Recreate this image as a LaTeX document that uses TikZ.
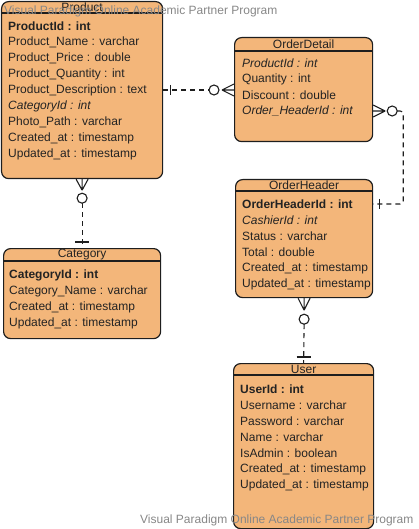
\documentclass[tikz,border=0pt]{standalone}
\usepackage{fontspec}
\setmainfont{Liberation Sans}
\usetikzlibrary{calc}
\definecolor{erfill}{RGB}{243,182,122}
\definecolor{erline}{RGB}{30,30,30}
\definecolor{ertext}{RGB}{35,35,35}
\definecolor{wmark}{RGB}{135,135,135}
\tikzset{
  entity/.style={draw=erline, fill=erfill, line width=1.2pt, rounded corners=7pt, anchor=north west, inner sep=0pt},
  ttl/.style={text=ertext, font=\fontsize{12}{14}\selectfont, inner sep=0pt},
  field/.style={text=ertext, font=\fontsize{12}{14}\selectfont, anchor=west, inner sep=0pt},
  pkey/.style={field, font=\fontsize{12}{14}\selectfont\bfseries},
  fkey/.style={field, font=\fontsize{12}{14}\selectfont\itshape},
  sepline/.style={draw=erline, line width=1.2pt},
  rel/.style={draw=erline, line width=1.1pt, dash pattern=on 5pt off 4pt},
  foot/.style={draw=erline, line width=1.1pt},
  wmtext/.style={text=wmark, font=\fontsize{12}{14}\selectfont, anchor=west, inner sep=0pt}
}
\begin{document}
\begin{tikzpicture}[x=1pt,y=-1pt]
    \useasboundingbox (0,0) rectangle (418,529);
    % Product
    \node[entity, minimum width=161pt, minimum height=177pt] (product) at (1,1) {};
    \draw[sepline] ($(product.north west)+(0,12)$) -- ($(product.north east)+(0,12)$);
    \node[ttl] (ptitle) at ($(product.north)+(0,6)$) {Product};
    \node[pkey] (pid) at (8,26) {ProductId : int};
    \node[field] (pname) at (8,42) {Product\_Name : varchar};
    \node[field] (pprice) at (8,58) {Product\_Price : double};
    \node[field] (pqty) at (8,74) {Product\_Quantity : int};
    \node[field] (pdesc) at (8,90) {Product\_Description : text};
    \node[fkey] (pcat) at (8,106) {CategoryId : int};
    \node[field] (pphoto) at (8,122) {Photo\_Path : varchar};
    \node[field] (pcreated) at (8,138) {Created\_at : timestamp};
    \node[field] (pupdated) at (8,154) {Updated\_at : timestamp};
    % OrderDetail
    \node[entity, minimum width=138pt, minimum height=104pt] (odetail) at (234,37) {};
    \draw[sepline] ($(odetail.north west)+(0,14)$) -- ($(odetail.north east)+(0,14)$);
    \node[ttl] (dtitle) at ($(odetail.north)+(0,7)$) {OrderDetail};
    \node[fkey] (dprod) at (242,63) {ProductId : int};
    \node[field] (dqty) at (242,79) {Quantity : int};
    \node[field] (ddisc) at (242,95) {Discount : double};
    \node[fkey] (dhead) at (242,111) {Order\_HeaderId : int};
    % OrderHeader
    \node[entity, minimum width=137pt, minimum height=118pt] (oheader) at (235,179) {};
    \draw[sepline] ($(oheader.north west)+(0,12)$) -- ($(oheader.north east)+(0,12)$);
    \node[ttl] (htitle) at ($(oheader.north)+(0,6)$) {OrderHeader};
    \node[pkey] (hid) at (242,204) {OrderHeaderId : int};
    \node[fkey] (hcash) at (242,220) {CashierId : int};
    \node[field] (hstatus) at (242,236) {Status : varchar};
    \node[field] (htotal) at (242,252) {Total : double};
    \node[field] (hcreated) at (242,268) {Created\_at : timestamp};
    \node[field] (hupdated) at (242,284) {Updated\_at : timestamp};
    % Category
    \node[entity, minimum width=157pt, minimum height=90pt] (category) at (3,248) {};
    \draw[sepline] ($(category.north west)+(0,13)$) -- ($(category.north east)+(0,13)$);
    \node[ttl] (ctitle) at ($(category.north)+(0,7)$) {Category};
    \node[pkey] (cid) at (9,275) {CategoryId : int};
    \node[field] (cname) at (9,291) {Category\_Name : varchar};
    \node[field] (ccreated) at (9,307) {Created\_at : timestamp};
    \node[field] (cupdated) at (9,323) {Updated\_at : timestamp};
    % User
    \node[entity, minimum width=140pt, minimum height=165pt] (user) at (233,363) {};
    \draw[sepline] ($(user.north west)+(0,12)$) -- ($(user.north east)+(0,12)$);
    \node[ttl] (utitle) at ($(user.north)+(0,6)$) {User};
    \node[pkey] (uid) at (240,389) {UserId : int};
    \node[field] (uname) at (240,405) {Username : varchar};
    \node[field] (upass) at (240,421) {Password : varchar};
    \node[field] (ureal) at (240,437) {Name : varchar};
    \node[field] (uadmin) at (240,453) {IsAdmin : boolean};
    \node[field] (ucreated) at (240,469) {Created\_at : timestamp};
    \node[field] (uupdated) at (240,485) {Updated\_at : timestamp};
    % Product -- OrderDetail
    \draw[rel] (product.east |- pdesc) -- ($(odetail.west |- pdesc)+(-25,0)$);
    \draw[foot] ($(product.east |- pdesc)+(7,-5)$) -- ++(0,10);
    \draw[foot, fill=white] ($(odetail.west |- pdesc)+(-20,0)$) circle (5pt);
    \coordinate (dfoot) at ($(odetail.west |- pdesc)+(-12,0)$);
    \draw[foot] (dfoot) -- ++(12,-6) (dfoot) -- ++(12,0) (dfoot) -- ++(12,6);
    % OrderDetail -- OrderHeader
    \draw[rel, rounded corners=3pt] ($(odetail.east |- dhead)+(24,0)$) -| ($(oheader.east |- hid)+(30,0)$) -- (oheader.east |- hid);
    \draw[foot] ($(oheader.east |- hid)+(6,-5)$) -- ++(0,10);
    \draw[foot, fill=white] ($(odetail.east |- dhead)+(19,0)$) circle (5pt);
    \coordinate (hfoot) at ($(odetail.east |- dhead)+(12,0)$);
    \draw[foot] (hfoot) -- ++(-12,-6) (hfoot) -- ++(-12,0) (hfoot) -- ++(-12,6);
    % OrderHeader -- User
    \draw[rel] ($(oheader.south)+(0,26)$) -- (user.north);
    \draw[foot] ($(user.north)+(-7,-6)$) -- ++(14,0);
    \draw[foot, fill=white] ($(oheader.south)+(0,21)$) circle (5pt);
    \coordinate (ufoot) at ($(oheader.south)+(0,12)$);
    \draw[foot] (ufoot) -- ++(-6,-12) (ufoot) -- ++(0,-12) (ufoot) -- ++(6,-12);
    % Product -- Category
    \draw[rel] ($(product.south)+(0,24)$) -- (category.north);
    \draw[foot] ($(category.north)+(-7,-6)$) -- ++(14,0);
    \draw[foot, fill=white] ($(product.south)+(0,19)$) circle (5pt);
    \coordinate (cfoot) at ($(product.south)+(0,11)$);
    \draw[foot] (cfoot) -- ++(-6,-11) (cfoot) -- ++(0,-11) (cfoot) -- ++(6,-11);
    % Watermarks
    \node[wmtext] (wmtop) at (4,11) {Visual Paradigm Online Academic Partner Program};
    \node[wmtext] (wmbottom) at (140,520) {Visual Paradigm Online Academic Partner Program};
\end{tikzpicture}
\end{document}
